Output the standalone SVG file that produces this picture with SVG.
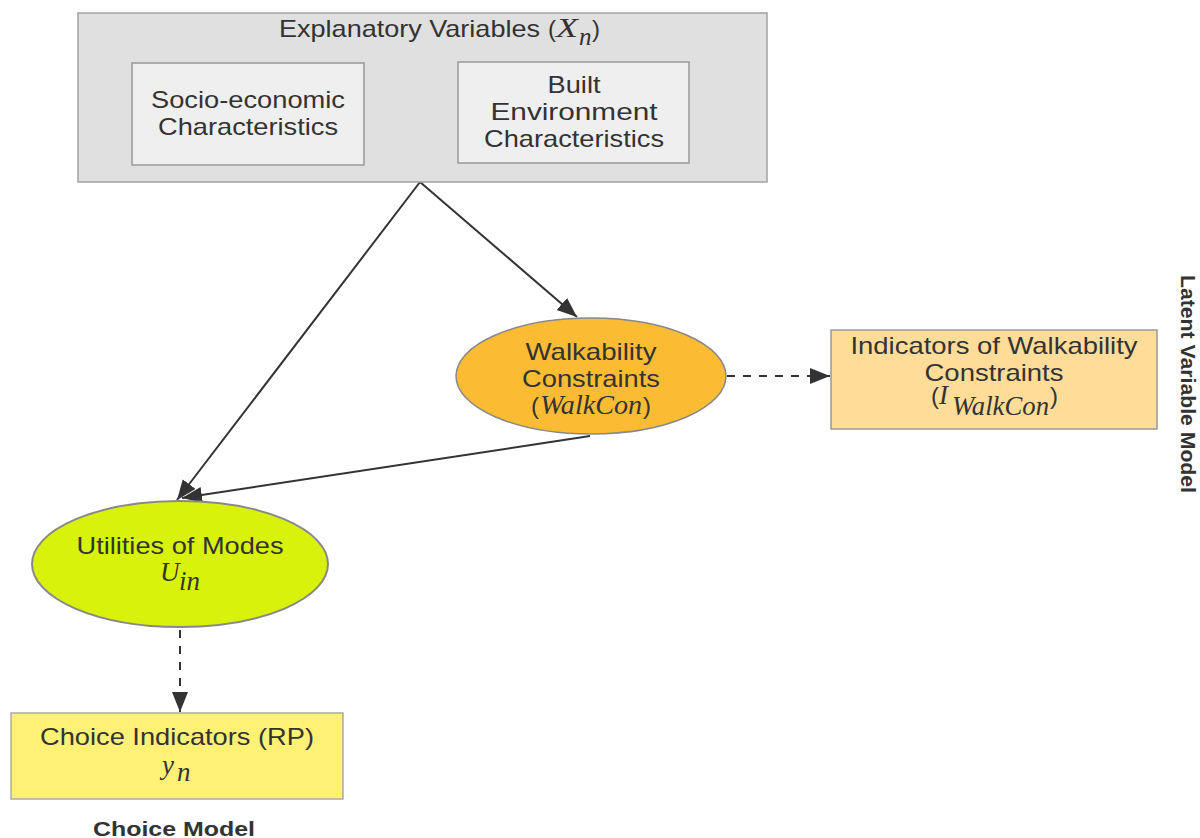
<svg xmlns="http://www.w3.org/2000/svg" width="1200" height="838" viewBox="0 0 1200 838">
<style>
.t{font-family:"Liberation Sans",Arial,sans-serif;font-size:24px;fill:#333;}
.m{font-family:"Liberation Serif","Times New Roman",serif;font-style:italic;font-size:27px;fill:#333;}
.b{font-family:"Liberation Sans",Arial,sans-serif;font-weight:bold;font-size:20px;fill:#333;}
.c{text-anchor:middle;}
.ln{stroke:#333;stroke-width:2;fill:none;}
.d{stroke-dasharray:8 8;}
</style>
<defs>
<marker id="ah" markerUnits="userSpaceOnUse" markerWidth="22" markerHeight="18" refX="20" refY="8" orient="auto">
<path d="M0,0 L20,8 L0,16 z" fill="#333"/>
</marker>
</defs>
<rect width="1200" height="838" fill="#fff"/>
<g id="connectors">
<line class="ln" x1="420" y1="182" x2="577" y2="317" marker-end="url(#ah)"/>
<line class="ln" x1="420" y1="182" x2="177" y2="500" marker-end="url(#ah)"/>
<line class="ln" x1="590" y1="436" x2="182" y2="498" marker-end="url(#ah)"/>
<line class="ln d" x1="727" y1="376" x2="830" y2="376" marker-end="url(#ah)"/>
<line class="ln d" x1="180" y1="630" x2="180" y2="712" marker-end="url(#ah)"/>
</g>
<g id="explanatory">
<rect x="78" y="13" width="689" height="169" fill="#e0e0e0" stroke="#a3a3a3" stroke-width="1.5"/>
<text class="t" x="279" y="37" textLength="261" lengthAdjust="spacingAndGlyphs">Explanatory Variables</text>
<text class="t" x="548" y="37">(</text>
<text class="m" x="556" y="37"><tspan textLength="22" lengthAdjust="spacingAndGlyphs">X</tspan><tspan x="579" y="45" font-size="25">n</tspan></text>
<text class="t" x="592" y="37">)</text>
</g>
<g id="socio">
<rect x="132" y="63" width="232" height="102" fill="#efefef" stroke="#999" stroke-width="1.5"/>
<text class="t c" x="248" y="108" textLength="194" lengthAdjust="spacingAndGlyphs">Socio-economic</text>
<text class="t c" x="248" y="135" textLength="180" lengthAdjust="spacingAndGlyphs">Characteristics</text>
</g>
<g id="built">
<rect x="458" y="62" width="231" height="101" fill="#efefef" stroke="#999" stroke-width="1.5"/>
<text class="t c" x="574" y="93" textLength="53" lengthAdjust="spacingAndGlyphs">Built</text>
<text class="t c" x="574" y="120" textLength="167" lengthAdjust="spacingAndGlyphs">Environment</text>
<text class="t c" x="574" y="147" textLength="180" lengthAdjust="spacingAndGlyphs">Characteristics</text>
</g>
<g id="walkcon">
<ellipse cx="591" cy="376" rx="135" ry="58" fill="#fbbc34" stroke="#888" stroke-width="1.5"/>
<text class="t c" x="591" y="360" textLength="131" lengthAdjust="spacingAndGlyphs">Walkability</text>
<text class="t c" x="591" y="387" textLength="138" lengthAdjust="spacingAndGlyphs">Constraints</text>
<text class="t" x="531" y="414">(</text>
<text class="m" x="540" y="414" textLength="102" lengthAdjust="spacingAndGlyphs">WalkCon</text>
<text class="t" x="643" y="414">)</text>
</g>
<g id="indicators">
<rect x="831" y="330" width="326" height="99" fill="#ffdd99" stroke="#999" stroke-width="1.5"/>
<text class="t c" x="994" y="354" textLength="287" lengthAdjust="spacingAndGlyphs">Indicators of Walkability</text>
<text class="t c" x="994" y="381" textLength="139" lengthAdjust="spacingAndGlyphs">Constraints</text>
<text class="t" x="931" y="404">(<tspan class="m" x="939">I</tspan><tspan class="m" x="952" y="415" textLength="97" lengthAdjust="spacingAndGlyphs">WalkCon</tspan><tspan x="1050" y="404">)</tspan></text>
</g>
<g id="utilities">
<ellipse cx="180" cy="564" rx="148" ry="63" fill="#d8f20c" stroke="#888" stroke-width="2"/>
<text class="t c" x="180" y="554" textLength="207" lengthAdjust="spacingAndGlyphs">Utilities of Modes</text>
<text class="m" x="160" y="581">U<tspan x="179" y="590" textLength="21" lengthAdjust="spacingAndGlyphs">in</tspan></text>
</g>
<g id="choice">
<rect x="11" y="713" width="332" height="86" fill="#fff176" stroke="#aaa" stroke-width="1.5"/>
<text class="t c" x="177" y="745" textLength="274" lengthAdjust="spacingAndGlyphs">Choice Indicators (RP)</text>
<text class="m" x="162" y="774">y<tspan x="177" y="781">n</tspan></text>
</g>
<g id="labels">
<text class="b c" x="174" y="836" textLength="162" lengthAdjust="spacingAndGlyphs">Choice Model</text>
<text class="b c" transform="translate(1181,384) rotate(90)" x="0" y="0" textLength="218" lengthAdjust="spacingAndGlyphs">Latent Variable Model</text>
</g>
</svg>
